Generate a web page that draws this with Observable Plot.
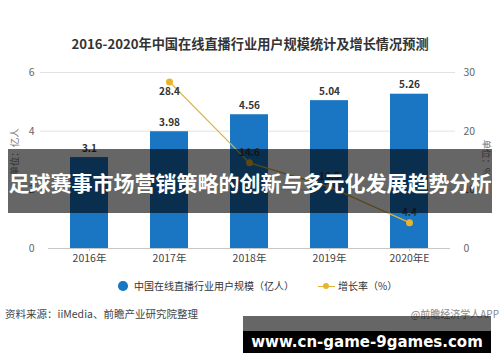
<!DOCTYPE html>
<html>
<head>
<meta charset="utf-8">
<script src="https://cdn.jsdelivr.net/npm/d3@7"></script>
<script src="https://cdn.jsdelivr.net/npm/@observablehq/plot@0.6"></script>
<style>
  html, body { margin: 0; padding: 0; background: #fff; }
  #wrap { position: relative; width: 500px; height: 362px; overflow: hidden; font-family: "Noto Sans CJK SC", "Noto Sans", sans-serif; }
  .abs { position: absolute; white-space: nowrap; }
  #title { left: 0; width: 500px; top: 35px; text-align: center; font-size: 13.2px; font-weight: bold; color: #333; line-height: 18px; }
  #chart { left: 0; top: 56px; }
  .unit { font-size: 9.5px; color: #777; line-height: 12px; }
  #legend { top: 279px; left: 0; width: 500px; height: 14px; font-size: 10px; color: #333; line-height: 14px; }
  #source { top: 306px; left: 5px; font-size: 10.5px; color: #444; line-height: 16px; }
  #credit { top: 306px; right: 1px; font-size: 10px; color: #888; line-height: 16px; }
  #band { left: 8px; top: 149px; width: 484px; height: 64px; background: rgba(0,0,0,0.6); color: #fff; font-weight: bold; font-size: 21px; line-height: 66px; text-align: center; letter-spacing: 0px; overflow: hidden; }
  #wm { left: 243px; top: 316px; width: 248px; height: 37px; background: rgba(0,0,0,0.6); }
  #wm2 { left: 243px; top: 331px; width: 248px; height: 22px; background: #000; color: #fff; font-family: "DejaVu Sans", sans-serif; font-weight: bold; font-size: 15px; line-height: 22px; text-align: center; }
</style>
</head>
<body>
<div id="wrap">
  <div id="title" class="abs"></div>
  <div id="chart" class="abs"></div>
  <div id="ylabL" class="abs unit"></div>
  <div id="ylabR" class="abs unit"></div>
  <div id="legend" class="abs"></div>
  <div id="source" class="abs"></div>
  <div id="credit" class="abs"></div>
  <div id="band" class="abs"></div>
  <div id="wm" class="abs"></div>
  <div id="wm2" class="abs"></div>
</div>
<script>
// ---- data ----
const titleText = "2016-2020年中国在线直播行业用户规模统计及增长情况预测";
const years = ["2016年", "2017年", "2018年", "2019年", "2020年E"];
const users = [3.1, 3.98, 4.56, 5.04, 5.26];          // 亿人
const growth = [null, 28.4, 14.6, 10.5, 4.4];          // %
const leftTicks = [0, 2, 4, 6];
const rightTicks = [0, 10, 20, 30];
const leftUnit = "单位：亿人";
const rightUnit = "单位：%";
const seriesNames = ["中国在线直播行业用户规模（亿人）", "增长率（%）"];
const sourceText = "资料来源：iiMedia、前瞻产业研究院整理";
const creditText = "@前瞻经济学人APP";
const bannerText = "足球赛事市场营销策略的创新与多元化发展趋势分析";
const watermarkText = "www.cn-game-9games.com";

// ---- derived tables ----
const ratio = rightTicks[rightTicks.length - 1] / leftTicks[leftTicks.length - 1]; // 30/6
const barData = years.map((y, i) => ({year: y, users: users[i]}));
const rateData = years.map((y, i) => ({year: y, rate: growth[i], i})).filter(d => d.rate != null);

const BLUE = "#1a76c2";
const GOLD = "#e8b52a";
const LINE = "#dcb43c";

const chart = Plot.plot({
  width: 500,
  height: 220,
  marginLeft: 40,
  marginRight: 45,
  marginTop: 16,
  marginBottom: 28,
  style: {fontFamily: "'Noto Sans CJK SC', 'Noto Sans', sans-serif", fontSize: "10px", color: "#555", background: "transparent", overflow: "visible"},
  x: {domain: years, range: [48, 450], paddingInner: 0.53, paddingOuter: 0.265, label: null},
  y: {domain: [0, 6], label: null},
  marks: [
    Plot.ruleY(leftTicks.filter(t => t > 0), {stroke: "#e2e2e2", strokeWidth: 1}),
    Plot.barY(barData, {x: "year", y: "users", fill: BLUE}),
    Plot.ruleY([0], {stroke: "#c8c8c8", insetLeft: 8, insetRight: 5}),
    Plot.axisX({tickSize: 3, tickPadding: 3, stroke: "#c8c8c8", fill: "#444", fontSize: 10.5}),
    Plot.axisY(leftTicks, {anchor: "left", tickSize: 0, tickPadding: 6, label: null, fill: "#666", fontSize: 10.5}),
    Plot.axisY(rightTicks.map(t => t / ratio), {anchor: "right", tickSize: 0, tickPadding: 8, label: null, fill: "#666", fontSize: 10.5, tickFormat: d => String(Math.round(d * ratio))}),
    Plot.text(barData, {x: "year", y: "users", text: d => String(d.users), dy: -9, fontWeight: "bold", fill: "#333", fontSize: 10}),
    Plot.line(rateData, {x: "year", y: d => d.rate / ratio, stroke: LINE, strokeWidth: 1.3}),
    Plot.dot(rateData, {x: "year", y: d => d.rate / ratio, r: 3.5, fill: GOLD, stroke: "none"}),
    Plot.text(rateData.filter(d => d.i === 1), {x: "year", y: d => d.rate / ratio, text: d => String(d.rate), dy: 10, fontWeight: "bold", fill: "#333", fontSize: 10}),
    Plot.text(rateData.filter(d => d.i !== 1), {x: "year", y: d => d.rate / ratio, text: d => String(d.rate), dy: -10, fontWeight: "bold", fill: "#333", fontSize: 10})
  ]
});
document.getElementById("chart").appendChild(chart);

document.getElementById("title").textContent = titleText;

const yl = document.getElementById("ylabL");
yl.textContent = leftUnit;
yl.style.left = "14px"; yl.style.top = "152px";
yl.style.transform = "translate(-50%,-50%) rotate(-90deg)";
const yr = document.getElementById("ylabR");
yr.textContent = rightUnit;
yr.style.left = "487px"; yr.style.top = "158px";
yr.style.transform = "translate(-50%,-50%) rotate(90deg)";

// legend (html)
const lg = document.getElementById("legend");
lg.innerHTML =
  `<span style="position:absolute;left:118px;top:2px;width:9.5px;height:9.5px;border-radius:50%;background:${BLUE}"></span>` +
  `<span style="position:absolute;left:134px;top:0">${seriesNames[0]}</span>` +
  `<span style="position:absolute;left:318px;top:6.5px;width:17px;height:1.4px;background:${LINE}"></span>` +
  `<span style="position:absolute;left:323px;top:4px;width:6px;height:6px;border-radius:50%;background:${GOLD}"></span>` +
  `<span style="position:absolute;left:338px;top:0">${seriesNames[1]}</span>`;

document.getElementById("source").textContent = sourceText;
document.getElementById("credit").textContent = creditText;
document.getElementById("band").textContent = bannerText;
document.getElementById("wm2").textContent = watermarkText;
</script>
</body>
</html>
